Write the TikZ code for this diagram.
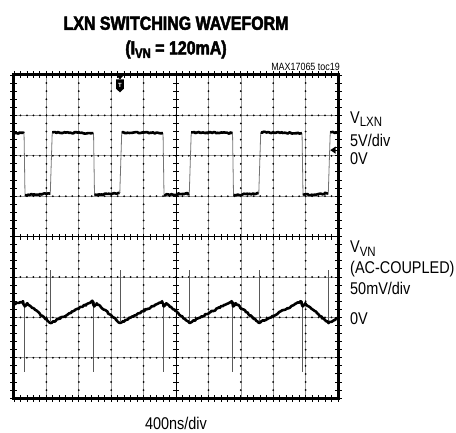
\documentclass[tikz,border=0pt]{standalone}
\usepackage{fontspec}
\setmainfont{Liberation Sans}
\newfontfamily\narrowfont[FakeStretch=0.85]{Liberation Sans}
\newfontfamily\headfont[FakeStretch=0.84,FakeBold=2.5]{Liberation Sans Bold}
\newcommand{\lowsub}[1]{\raisebox{-0.35ex}{\fontsize{13.5}{13.5}\selectfont #1}}
\usetikzlibrary{decorations.pathmorphing}

\begin{document}
\begin{tikzpicture}[x=32.4pt,y=40.4pt,
	gridline/.style={black!40, line width=0.6pt},
	griddot/.style={fill=black},
	hticks/.style={line width=#1, dash pattern=on 0.9pt off 5.58pt, dash phase=0.45pt},
	vticks/.style={line width=#1, dash pattern=on 0.9pt off 7.18pt, dash phase=0.45pt},
	trace/.style={line width=2.6pt, line join=round,
		decorate, decoration={random steps, segment length=1.5pt, amplitude=0.7pt}},
	edge/.style={black!55, line width=0.8pt},
	spike/.style={black!65, line width=0.9pt},
	vlabel/.style={anchor=west, inner sep=0pt, font=\narrowfont\fontsize{17}{17}\selectfont}]

	\useasboundingbox (-0.432,-0.842) rectangle (13.642,9.856);

	% dotted grid
	\foreach \gx in {1,2,3,4,6,7,8,9} {
		\draw[gridline] (\gx,0) -- (\gx,8);
		\foreach \n in {1,...,39}
			\fill[griddot] (\gx,\n/5) circle [radius=1pt];
	}
	\foreach \gy in {1,2,3,5,6,7} {
		\draw[gridline] (0,\gy) -- (10,\gy);
		\foreach \n in {1,...,49}
			\fill[griddot] (\n/5,\gy) circle [radius=1pt];
	}

	% centre axes
	\draw[line width=0.7pt] (5,0) -- (5,8);
	\draw[line width=0.7pt] (0,4) -- (10,4);
	\draw[vticks=6pt] (5,0) -- (5,8);
	\draw[hticks=6pt] (0,4) -- (10,4);

	% border ticks
	\draw[hticks=7pt] (0,0) -- (10,0);
	\draw[hticks=7pt] (0,8) -- (10,8);
	\draw[vticks=7pt] (0,0) -- (0,8);
	\draw[vticks=7pt] (10,0) -- (10,8);

	% frame
	\draw[line width=3pt] (0,0) rectangle (10,8);

	% trigger and ground markers
	\fill (3.15,8) -- (3.39,8) -- (3.27,7.89) -- cycle;
	\fill (3.15,7.89) -- (3.39,7.89) -- (3.39,7.66) -- (3.27,7.57) -- (3.15,7.66) -- cycle;
	\node[text=white, font=\bfseries\fontsize{6}{6}\selectfont, inner sep=0pt] (trig) at (3.27,7.75) {T};
	\fill (9.76,6.14) -- (9.93,6.23) -- (9.93,6.05) -- cycle;
	\draw[line width=1pt] (9.9,6.14) -- (10,6.14);

	% V_LXN trace
	\draw[trace] (0,6.56) -- (0.31,6.56);
	\foreach \k in {0,...,4} {
		\pgfmathsetmacro\f{0.31+2.145*\k}
		\pgfmathsetmacro\r{1.14+2.145*\k}
		\draw[edge] (\f,6.56) -- (\f+0.03,5.01);
		\draw[trace] (\f+0.03,5.03) -- (\r-0.02,5.07);
		\draw[edge] (\r-0.02,5.07) -- (\r+0.04,6.58);
	}
	\foreach \k in {0,...,3} {
		\pgfmathsetmacro\r{1.14+2.145*\k}
		\draw[trace] (\r+0.04,6.58) -- (\r+1.31,6.56);
	}
	\draw[trace] (9.76,6.58) -- (10,6.56);

	% V_VN trace
	\foreach \k in {0,...,4} {
		\pgfmathsetmacro\f{0.31+2.145*\k}
		\pgfmathsetmacro\r{1.14+2.145*\k}
		\draw[spike] (\f,2.32) -- (\f,0.64);
		\draw[spike] (\r,1.9) -- (\r,3.17);
	}
	\draw[trace] (0,2.33)
		\foreach \k in {0,...,4} {
			-- ({0.28+2.145*\k},2.40) -- ({0.33+2.145*\k},2.27)
			-- ({0.41+2.145*\k},2.35) -- ({1.13+2.145*\k},1.86)
		}
		-- (10,1.99);

	% title
	\node[font=\headfont\fontsize{19}{19}\selectfont] (title) at (5,9.28) {LXN SWITCHING WAVEFORM};
	\node[font=\headfont\fontsize{19}{19}\selectfont] (cond) at (5,8.63) {(I\lowsub{VN} = 120mA)};
	\node[anchor=east, inner sep=0pt, font=\narrowfont\fontsize{10.5}{10.5}\selectfont] (part) at (10.06,8.19) {MAX17065 toc19};

	% channel labels
	\node[vlabel] (lxn) at (10.37,6.9) {V\lowsub{LXN}};
	\node[vlabel] (lxnscale) at (10.37,6.39) {5V/div};
	\node[vlabel] (lxnzero) at (10.37,5.94) {0V};
	\node[vlabel] (vn) at (10.37,3.7) {V\lowsub{VN}};
	\node[vlabel] (vncoup) at (10.37,3.2) {(AC-COUPLED)};
	\node[vlabel] (vnscale) at (10.37,2.72) {50mV/div};
	\node[vlabel] (vnzero) at (10.37,1.98) {0V};

	% time base
	\node[font=\narrowfont\fontsize{17}{17}\selectfont] (tbase) at (5,-0.62) {400ns/div};
\end{tikzpicture}
\end{document}
